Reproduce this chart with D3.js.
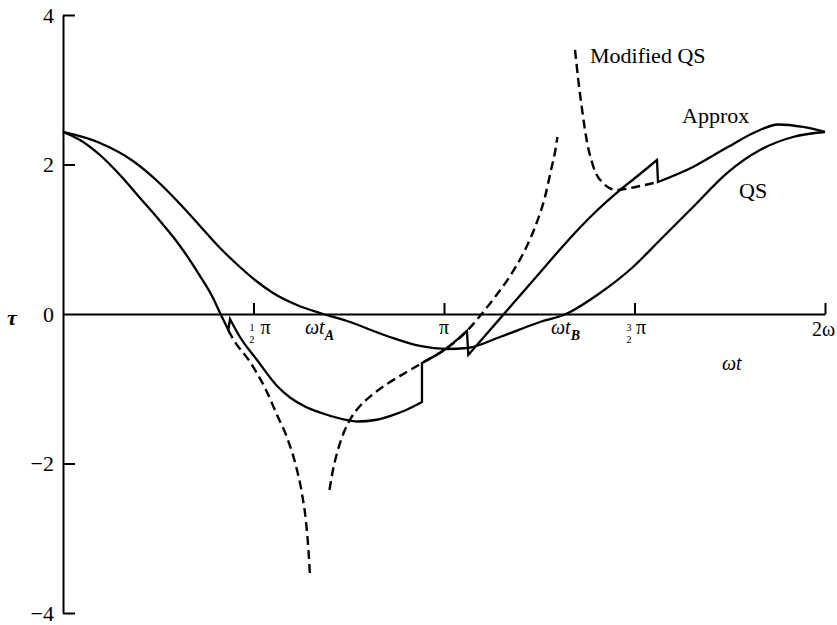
<!DOCTYPE html>
<html>
<head>
<meta charset="utf-8">
<script src="https://cdn.jsdelivr.net/npm/d3@7"></script>
<style>
  html, body { margin: 0; padding: 0; background: #fff; }
  svg { display: block; }
  text { font-family: "Liberation Serif", "Times New Roman", serif; fill: #000; }
</style>
</head>
<body>
<svg id="chart" width="837" height="625"></svg>
<script>
// Each point is [ωt (radians), τ]

// Quasi-static solution
const qsCurve = [
  [0, 2.435], [0.305, 2.288], [0.577, 2.047], [0.759, 1.806], [0.965, 1.472],
  [1.130, 1.177], [1.295, 0.883], [1.459, 0.629], [1.583, 0.455], [1.732, 0.281],
  [1.929, 0.120], [2.119, 0.013], [2.342, -0.094], [2.672, -0.294], [2.944, -0.428],
  [3.166, -0.468], [3.331, -0.455], [3.603, -0.308], [3.933, -0.107], [4.147, 0.0],
  [4.428, 0.281], [4.700, 0.629], [4.923, 0.990], [5.195, 1.431], [5.475, 1.886],
  [5.747, 2.194], [6.019, 2.368], [6.283, 2.435]
];

// Approximate solution, piece by piece (joined by jumps)
const approxPart1 = [
  [0, 2.435], [0.140, 2.328], [0.305, 2.127], [0.470, 1.860], [0.635, 1.552],
  [0.800, 1.244], [0.965, 0.910], [1.130, 0.508], [1.237, 0.214], [1.295, 0.013],
  [1.363, -0.214]
];
const approxPart2 = [
  [1.377, -0.067], [1.459, -0.308], [1.600, -0.615], [1.765, -0.963], [1.872, -1.117],
  [1.995, -1.237], [2.119, -1.318], [2.284, -1.398], [2.432, -1.438], [2.573, -1.418],
  [2.696, -1.365], [2.820, -1.291], [2.960, -1.177]
];
const approxPart3 = [
  [2.960, -0.656], [3.166, -0.455], [3.331, -0.227]
];
const approxPart4 = [
  [3.342, -0.548], [3.496, -0.261], [3.661, 0.047], [3.908, 0.508], [4.098, 0.863],
  [4.263, 1.157], [4.403, 1.385], [4.568, 1.625], [4.758, 1.873], [4.898, 2.060]
];
const approxPart5 = [
  [4.906, 1.766], [5.195, 1.967], [5.475, 2.227], [5.747, 2.462], [5.895, 2.535],
  [6.102, 2.502], [6.283, 2.435]
];

// Modified quasi-static solution, branches between its singularities
const modQsBranch1 = [
  [1.363, -0.214], [1.393, -0.308], [1.542, -0.642], [1.666, -0.990], [1.765, -1.351],
  [1.855, -1.686], [1.921, -2.033], [1.971, -2.408], [2.004, -2.783], [2.024, -3.157],
  [2.037, -3.518]
];
const modQsBranch2 = [
  [2.197, -2.355], [2.226, -2.087], [2.267, -1.819], [2.317, -1.579], [2.375, -1.391],
  [2.449, -1.231], [2.548, -1.084], [2.672, -0.936], [2.820, -0.789], [2.960, -0.656],
  [3.166, -0.455], [3.331, -0.227], [3.438, -0.027], [3.562, 0.227], [3.686, 0.508],
  [3.809, 0.856], [3.908, 1.231], [3.974, 1.565], [4.024, 1.926], [4.057, 2.167],
  [4.077, 2.368]
];
const modQsBranch3 = [
  [4.222, 3.532], [4.249, 3.130], [4.277, 2.773], [4.318, 2.328], [4.373, 1.971],
  [4.455, 1.749], [4.565, 1.659], [4.730, 1.703], [4.906, 1.766]
];

const yTickValues = [-4, -2, 0, 2, 4];
const yTickLabels = ["\u22124", "\u22122", "0", "2", "4"];
const xTickValues = [Math.PI / 2, Math.PI, 1.5 * Math.PI, 2 * Math.PI];
const seriesLabels = ["Modified QS", "Approx", "QS"];

const serif = '"Liberation Serif", "Times New Roman", serif';
const svg = d3.select("#chart");
svg.append("rect").attr("width", 837).attr("height", 625).attr("fill", "#fff");

const x = d3.scaleLinear().domain([0, 2 * Math.PI]).range([63, 825]);
const y = d3.scaleLinear().domain([-4, 4]).range([613, 15]);

// y axis: ticks pointing into the plot, labels on the left
const yAxis = svg.append("g")
  .attr("transform", `translate(${x(0)},0)`)
  .call(d3.axisLeft(y)
    .tickValues(yTickValues)
    .tickSizeInner(-12)
    .tickSizeOuter(0)
    .tickPadding(9)
    .tickFormat((d, i) => yTickLabels[i]));
yAxis.attr("font-family", null).attr("font-size", null);
yAxis.select(".domain").attr("stroke", "#000").attr("stroke-width", 2);
yAxis.selectAll(".tick line").attr("stroke", "#000").attr("stroke-width", 2)
  .filter(d => d === 0).remove();
yAxis.selectAll(".tick text")
  .style("font-family", serif)
  .style("font-size", "22px")
  .attr("dy", "0.34em");

// x axis along τ = 0, ticks pointing up
const xAxis = svg.append("g")
  .attr("transform", `translate(0,${y(0)})`)
  .call(d3.axisBottom(x)
    .tickValues(xTickValues)
    .tickSizeInner(-11)
    .tickSizeOuter(0)
    .tickFormat(""));
xAxis.select(".domain").attr("stroke", "#000").attr("stroke-width", 2);
xAxis.selectAll(".tick line").attr("stroke", "#000").attr("stroke-width", 2);

// axis name τ
svg.append("text")
  .attr("x", 12).attr("y", y(0) + 11)
  .attr("text-anchor", "middle")
  .attr("font-size", 22).attr("font-weight", "bold").attr("font-style", "italic")
  .text("τ");

// x tick labels
const base = y(0) + 20;
function fraction(cx, num, den) {
  svg.append("text").attr("x", cx).attr("y", base - 3).attr("text-anchor", "middle")
    .attr("font-size", 10).text(num);
  svg.append("text").attr("x", cx).attr("y", base + 9).attr("text-anchor", "middle")
    .attr("font-size", 10).text(den);
}
fraction(x(Math.PI / 2) - 1.5, "1", "2");
svg.append("text").attr("x", x(Math.PI / 2) + 7).attr("y", base)
  .attr("font-size", 20).text("π");

svg.append("text").attr("x", x(Math.PI)).attr("y", base)
  .attr("text-anchor", "middle").attr("font-size", 20).text("π");

fraction(x(1.5 * Math.PI) - 5.5, "3", "2");
svg.append("text").attr("x", x(1.5 * Math.PI) + 1.5).attr("y", base)
  .attr("font-size", 20).text("π");

svg.append("text").attr("x", x(2 * Math.PI) - 13).attr("y", base + 2)
  .attr("font-size", 20).text("2ω");

function omegaT(xStart, sub, yBase) {
  const t = svg.append("text").attr("x", xStart).attr("y", yBase)
    .attr("font-size", 20).attr("font-style", "italic");
  t.append("tspan").text("ωt");
  if (sub) {
    t.append("tspan").attr("dy", 6).attr("font-size", 14).attr("font-weight", "bold")
      .text(sub);
  }
}
omegaT(305, "A", base);
omegaT(551, "B", base);
omegaT(722, null, y(0) + 56);

// curves
const line = d3.line()
  .x(d => x(d[0]))
  .y(d => y(d[1]))
  .curve(d3.curveMonotoneX);

const g = svg.append("g").attr("fill", "none").attr("stroke", "#000");

g.append("path")
  .attr("d", line(qsCurve))
  .attr("stroke-width", 2.3);

// the approximate curve is one path; its pieces meet through vertical jumps
const approxParts = [approxPart1, approxPart2, approxPart3, approxPart4, approxPart5];
const approxD = approxParts
  .map((p, i) => (i === 0 ? line(p) : "L" + line(p).slice(1)))
  .join("");
g.append("path")
  .attr("d", approxD)
  .attr("stroke-width", 2.3)
  .attr("stroke-linejoin", "miter");

[modQsBranch1, modQsBranch2, modQsBranch3].forEach(b => {
  g.append("path")
    .attr("d", line(b))
    .attr("stroke-width", 2.4)
    .attr("stroke-dasharray", "9,5");
});

// series labels
svg.append("text").attr("x", 590).attr("y", 63).attr("font-size", 22).text(seriesLabels[0]);
svg.append("text").attr("x", 682).attr("y", 123).attr("font-size", 22).text(seriesLabels[1]);
svg.append("text").attr("x", 739).attr("y", 198).attr("font-size", 22).text(seriesLabels[2]);
</script>
</body>
</html>
